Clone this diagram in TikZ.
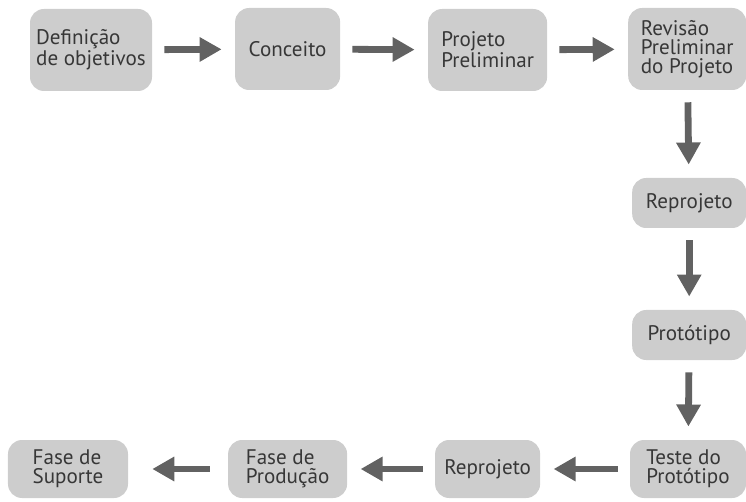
\documentclass[tikz,border=0pt]{standalone}
\usepackage{fontspec}
\setmainfont{PT Sans}
\usepackage{xcolor}
\usepackage{tikz}
\usetikzlibrary{arrows.meta, positioning}
\definecolor{stagefill}{RGB}{205,205,205}
\definecolor{arrowgray}{RGB}{98,98,98}
\definecolor{textgray}{RGB}{55,55,55}
\tikzset{
    stage/.style={
        rectangle,
        rounded corners=0.35cm,
        fill=stagefill,
        text=textgray,
        align=left,
        inner sep=0pt,
        minimum height=2.05cm,
        font=\fontsize{15}{13.6}\selectfont
    },
    smallstage/.style={
        stage,
        minimum height=1.25cm
    },
    lowstage/.style={
        stage,
        minimum height=1.45cm
    },
    flow/.style={
        draw=arrowgray,
        line width=0.17cm,
        -{Triangle[length=0.55cm, width=0.58cm]},
        shorten >=0.33cm,
        shorten <=0.3cm
    }
}
\begin{document}
\begin{tikzpicture}

\useasboundingbox (0,0) rectangle (18.65,12.525);

% Top row
\node[stage, minimum width=3.05cm] (goals) at (2.275, 11.275) {Definição\\de objetivos};
\node[stage, minimum width=2.625cm] (concept) at (7.19, 11.3) {Conceito};
\node[stage, minimum width=2.975cm] (prelim) at (12.19, 11.275) {Projeto\\Preliminar};
\node[stage, minimum width=2.95cm] (review) at (17.18, 11.3) {Revisão\\Preliminar\\do Projeto};

% Right column
\node[smallstage, minimum width=2.85cm] (redesignA) at (17.23, 7.45) {Reprojeto};
\node[smallstage, minimum width=2.85cm] (proto) at (17.23, 4.15) {Protótipo};

% Bottom row
\node[lowstage, minimum width=2.9cm] (test) at (17.2, 0.8) {Teste do\\Protótipo};
\node[lowstage, minimum width=2.625cm] (redesignB) at (12.19, 0.8) {Reprojeto};
\node[lowstage, minimum width=2.975cm] (production) at (7.19, 0.8) {Fase de\\Produção};
\node[lowstage, minimum width=3.0cm] (support) at (1.7, 0.8) {Fase de\\Suporte};

\draw[flow] (goals) -- (concept);
\draw[flow] (concept) -- (prelim);
\draw[flow] (prelim) -- (review);
\draw[flow] (review) -- (redesignA);
\draw[flow] (redesignA) -- (proto);
\draw[flow] (proto) -- (test);
\draw[flow] (test) -- (redesignB);
\draw[flow] (redesignB) -- (production);
\draw[flow, shorten <=0.45cm, shorten >=0.6cm] (production) -- (support);

\end{tikzpicture}
\end{document}
